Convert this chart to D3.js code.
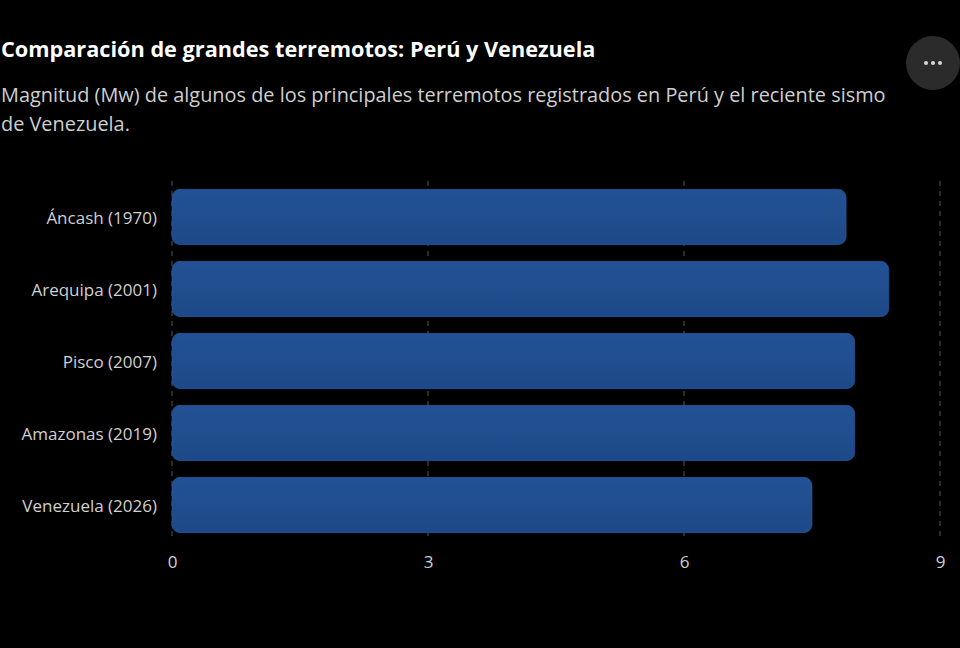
<!DOCTYPE html>
<html><head><meta charset="utf-8">
<script src="https://cdn.jsdelivr.net/npm/d3@7"></script>
<style>
html,body{margin:0;padding:0;background:#000;}
svg{display:block;}
</style></head>
<body>
<svg id="chart" width="960" height="648"></svg>
<script>
const categories = ["Áncash (1970)", "Arequipa (2001)", "Pisco (2007)", "Amazonas (2019)", "Venezuela (2026)"];
const magnitudes = [7.9, 8.4, 8.0, 8.0, 7.5];
const xTicks = [0, 3, 6, 9];
const titleText = "Comparación de grandes terremotos: Perú y Venezuela";
const subtitleLines = ["Magnitud (Mw) de algunos de los principales terremotos registrados en Perú y el reciente sismo", "de Venezuela."];

const FONT = "'Open Sans', sans-serif";
const svg = d3.select("#chart");
const margin = {left: 172, right: 20, top: 181, bottom: 107};

const defs = svg.append("defs");
const grad = defs.append("linearGradient").attr("id","barGrad").attr("x1",0).attr("y1",0).attr("x2",0).attr("y2",1);
grad.append("stop").attr("offset","0%").attr("stop-color","#225294");
grad.append("stop").attr("offset","100%").attr("stop-color","#1e4988");

svg.append("text").attr("x",1).attr("y",57).attr("fill","#fff")
  .attr("font-family",FONT).attr("font-weight",700).attr("font-size",21.7)
  .text(titleText);
svg.selectAll("text.sub").data(subtitleLines).join("text").attr("class","sub")
  .attr("x",1).attr("y",(d,i)=>102+i*29).attr("fill","#cfcfcf")
  .attr("font-family",FONT).attr("font-size",19.9).text(d=>d);

// menu button
svg.append("circle").attr("cx",933).attr("cy",63).attr("r",27).attr("fill","#2b2b2b");
svg.selectAll("circle.dot").data([-7,0,7]).join("circle").attr("class","dot")
  .attr("cx",d=>933+d).attr("cy",63).attr("r",2).attr("fill","#d8d8d8");

const x = d3.scaleLinear().domain([0,9]).range([margin.left, 940]);
const y = d3.scaleBand().domain(categories).range([181, 541]).paddingInner(0.232).paddingOuter(0.116);

// grid
svg.append("g").selectAll("line").data(xTicks).join("line")
  .attr("x1",d=>x(d)).attr("x2",d=>x(d)).attr("y1",181).attr("y2",537)
  .attr("stroke","#3a3a3a").attr("stroke-width",1.5).attr("stroke-dasharray","5,5");

// bars
svg.append("g").selectAll("rect").data(magnitudes).join("rect")
  .attr("x",x(0)).attr("y",(d,i)=>y(categories[i]))
  .attr("width",d=>x(d)-x(0)).attr("height",y.bandwidth())
  .attr("rx",8).attr("ry",8)
  .attr("fill","url(#barGrad)").attr("stroke","#2a5aa0").attr("stroke-width",0.6);

// y axis
const yAxis = d3.axisLeft(y).tickSize(0).tickPadding(15);
const gy = svg.append("g").attr("transform",`translate(${x(0)},2)`).call(yAxis);
gy.select(".domain").remove();
gy.selectAll("text").attr("fill","#d0d0d0").attr("font-family",FONT).attr("font-size",17);

// x axis
const xAxis = d3.axisBottom(x).tickValues(xTicks).tickSize(0).tickPadding(19);
const gx = svg.append("g").attr("transform",`translate(0,537)`).call(xAxis);
gx.select(".domain").remove();
gx.selectAll("text").attr("fill","#d0d0d0").attr("font-family",FONT).attr("font-size",17);
</script>
</body></html>
